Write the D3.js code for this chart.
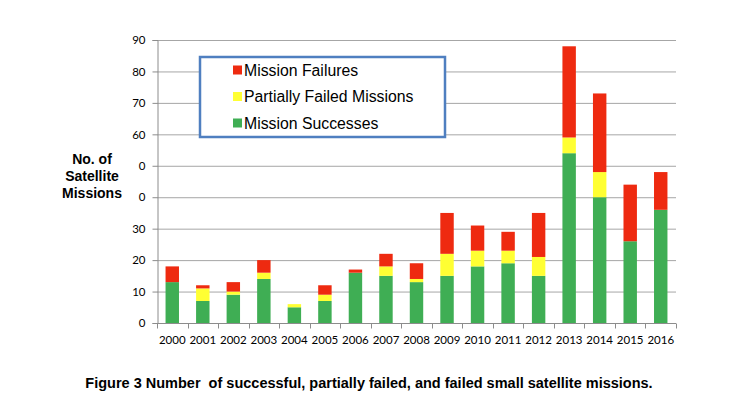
<!DOCTYPE html>
<html>
<head>
<meta charset="utf-8">
<script src="https://cdn.jsdelivr.net/npm/d3@7"></script>
<style>
  html, body { margin: 0; padding: 0; background: #fff; }
  svg { display: block; }
</style>
</head>
<body>
<svg id="chart" width="742" height="405"></svg>
<script>
const years = ["2000","2001","2002","2003","2004","2005","2006","2007","2008","2009","2010","2011","2012","2013","2014","2015","2016"];
const successes = [13, 7, 9, 14, 5, 7, 16, 15, 13, 15, 18, 19, 15, 54, 40, 26, 36];
const partial   = [0, 4, 1, 2, 1, 2, 0, 3, 1, 7, 5, 4, 6, 5, 8, 0, 0];
const failures  = [5, 1, 3, 4, 0, 3, 1, 4, 5, 13, 8, 6, 14, 29, 25, 18, 12];
const yTickValues = [0, 10, 20, 30, 40, 50, 60, 70, 80, 90];
const yTickLabels = ["0", "10", "20", "30", "0", "0", "60", "70", "80", "90"];
const seriesNames = ["Mission Failures", "Partially Failed Missions", "Mission Successes"];
const seriesKeys = ["successes", "partial", "failures"];
const colors = { successes: "#3fae54", partial: "#ffff33", failures: "#ee2a10" };

const svg = d3.select("#chart");
const m = { left: 157, right: 676, top: 40, bottom: 323 };

const x = d3.scaleBand().domain(years).range([m.left, m.right]).paddingInner(0.56).paddingOuter(0.28);
const y = d3.scaleLinear().domain([0, 90]).range([m.bottom, m.top]);

const table = years.map((yr, i) => ({ year: yr, successes: successes[i], partial: partial[i], failures: failures[i] }));
const stacked = d3.stack().keys(seriesKeys)(table);

// gridlines
svg.append("g").selectAll("line").data(yTickValues.filter(v => v > 0)).join("line")
  .attr("x1", m.left).attr("x2", m.right)
  .attr("y1", d => y(d) + 0.5).attr("y2", d => y(d) + 0.5)
  .attr("stroke", "#a6a6a6").attr("stroke-width", 1);

// y axis
const yAxis = d3.axisLeft(y).tickValues(yTickValues).tickSize(5).tickPadding(7)
  .tickFormat((d, i) => yTickLabels[i]);
const gy = svg.append("g").attr("transform", `translate(${m.left + 0.5},0)`).call(yAxis);
gy.select(".domain").attr("stroke", "#8c8c8c");
gy.selectAll(".tick line").attr("stroke", "#8c8c8c");
gy.selectAll(".tick text").attr("font-family", "Lato, 'Open Sans', sans-serif").attr("font-size", 11.5).attr("fill", "#000");

// bars
svg.append("g").selectAll("g").data(stacked).join("g")
  .attr("fill", d => colors[d.key])
  .selectAll("rect").data(d => d).join("rect")
  .attr("x", d => x(d.data.year))
  .attr("width", x.bandwidth())
  .attr("y", d => y(d[1]))
  .attr("height", d => y(d[0]) - y(d[1]));

// x axis
const gx = svg.append("g").attr("transform", `translate(0,${m.bottom + 0.5})`);
gx.append("line").attr("x1", m.left).attr("x2", m.right).attr("stroke", "#8c8c8c");
const boundaries = d3.range(years.length + 1).map(i => m.left + i * (m.right - m.left) / years.length);
gx.selectAll("line.tk").data(boundaries).join("line").attr("class", "tk")
  .attr("x1", d => Math.round(d) + 0.5).attr("x2", d => Math.round(d) + 0.5)
  .attr("y1", 0).attr("y2", 5).attr("stroke", "#8c8c8c");
gx.selectAll("text").data(years).join("text")
  .attr("x", d => x(d) + x.bandwidth() / 2)
  .attr("y", 20)
  .attr("text-anchor", "middle")
  .attr("font-family", "Lato, 'Open Sans', sans-serif").attr("font-size", 11.5).attr("fill", "#000")
  .text(d => d);

// y label
const yl = svg.append("text").attr("text-anchor", "middle")
  .attr("font-family", "'Liberation Sans', Arial, sans-serif").attr("font-weight", "bold").attr("font-size", 14);
["No. of", "Satellite", "Missions"].forEach((t, i) => {
  yl.append("tspan").attr("x", 92).attr("y", 164 + i * 17).text(t);
});

// legend
const lg = svg.append("g");
lg.append("rect").attr("x", 200).attr("y", 57).attr("width", 245).attr("height", 80)
  .attr("fill", "#fff").attr("stroke", "#4f7fc0").attr("stroke-width", 2.5);
const legendKeys = ["failures", "partial", "successes"];
legendKeys.forEach((k, i) => {
  const cy = 70 + i * 26.5;
  lg.append("rect").attr("x", 233).attr("y", cy - 4.5).attr("width", 9).attr("height", 9).attr("fill", colors[k]);
  lg.append("text").attr("x", 244).attr("y", cy + 5.5)
    .attr("font-family", "'Liberation Sans', Arial, sans-serif").attr("font-size", 15.8).attr("fill", "#000")
    .text(seriesNames[i]);
});

// caption
svg.append("text").attr("x", 369).attr("y", 388).attr("text-anchor", "middle")
  .attr("font-family", "'Liberation Sans', Arial, sans-serif").attr("font-weight", "bold").attr("font-size", 14.5)
  .attr("fill", "#000")
  .attr("xml:space", "preserve").style("white-space", "pre")
  .text("Figure 3 Number  of successful, partially failed, and failed small satellite missions.");
</script>
</body>
</html>
